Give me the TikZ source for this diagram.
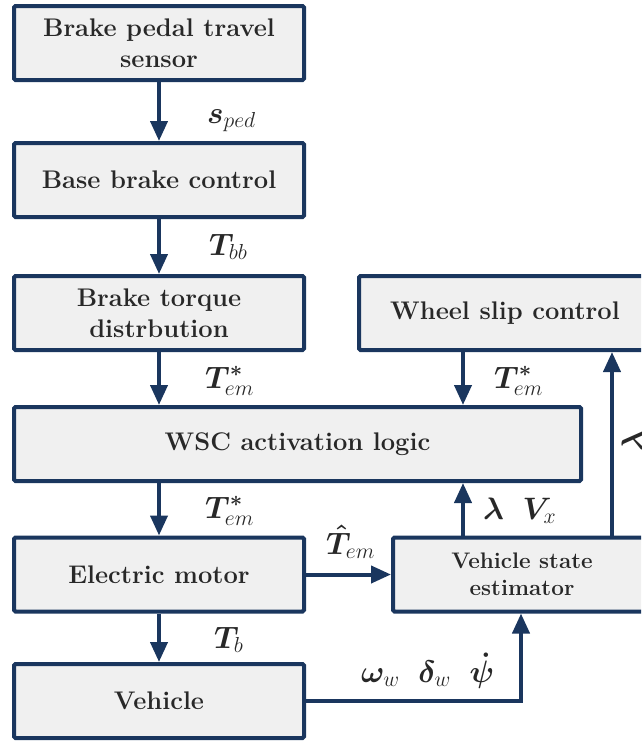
\RequirePackage{fix-cm}
\documentclass[tikz,border=0pt]{standalone}
\usepackage{bm}
\usetikzlibrary{arrows.meta}
\definecolor{navy}{RGB}{26,54,94}
\definecolor{boxfill}{RGB}{240,240,240}
\definecolor{ink}{RGB}{40,40,40}
\begin{document}
\begin{tikzpicture}[x=1pt,y=-1pt,
  block/.style={draw=navy, line width=4pt, fill=boxfill, rounded corners=1.5pt,
    inner sep=0pt, align=center, text=ink, minimum width=290pt, minimum height=74pt,
    font=\fontsize{25.5}{31}\selectfont\bfseries},
  flow/.style={draw=navy, line width=4pt, -{Triangle[length=20pt,width=17pt]}},
  lbl/.style={text=ink, inner sep=0pt, anchor=base west, font=\fontsize{31}{34}\selectfont}]
\clip (0,0) rectangle (641,742);

% blocks
\node[block] (pedal) at (159,43) {Brake pedal travel\\sensor};
\node[block] (bbc) at (159,180) {Base brake control};
\node[block] (btd) at (159,313) {Brake torque\\distrbution};
\node[block, minimum width=292pt] (wslip) at (505,313) {Wheel slip control};
\node[block, minimum width=567pt] (wsc) at (297.5,444) {WSC activation logic};
\node[block] (em) at (159,574.5) {Electric motor};
\node[block, minimum width=258pt, font=\fontsize{22.5}{27}\selectfont\bfseries] (vse) at (522,574.5) {Vehicle state\\estimator};
\node[block] (veh) at (159,701) {Vehicle};

% column positions of the right-hand connectors
\coordinate (xa) at (463,0);
\coordinate (xb) at (612,0);
\coordinate (xc) at (521,0);

% connectors
\draw[flow] (pedal) -- (bbc);
\draw[flow] (bbc) -- (btd);
\draw[flow] (btd.south) -- (btd.south |- wsc.north);
\draw[flow] (wslip.south -| xa) -- (wsc.north -| xa);
\draw[flow] (wsc.south -| em.north) -- (em.north);
\draw[flow] (vse.north -| xa) -- (wsc.south -| xa);
\draw[flow] (vse.north -| xb) -- (wslip.south -| xb);
\draw[flow] (em.east) -- (vse.west);
\draw[flow] (em) -- (veh);
\draw[flow] (veh.east) -| (vse.south -| xc);

% signal labels
\node[lbl] (lsped) at (207,123) {$\bm{s}_{ped}$};
\node[lbl] (ltbb) at (209,255) {$\bm{T}_{bb}$};
\node[lbl] (ltem1) at (205,388) {$\bm{T}^{\bm{*}}_{em}$};
\node[lbl] (ltem2) at (494,388) {$\bm{T}^{\bm{*}}_{em}$};
\node[lbl] (ltem3) at (205,518) {$\bm{T}^{\bm{*}}_{em}$};
\node[lbl] (llvx) at (483,519) {$\bm{\lambda}\ \ \bm{V}_{x}$};
\node[lbl] (lthat) at (326,554) {$\bm{\hat{T}}_{em}$};
\node[lbl] (ltb) at (214,648) {$\bm{T}_{b}$};
\node[lbl] (lomega) at (361,682) {$\bm{\omega}_{w}\ \ \bm{\delta}_{w}\ \ \bm{\dot{\psi}}$};
\node[lbl, rotate=90] (llam) at (643,452) {$\bm{\lambda}$};
\end{tikzpicture}
\end{document}
